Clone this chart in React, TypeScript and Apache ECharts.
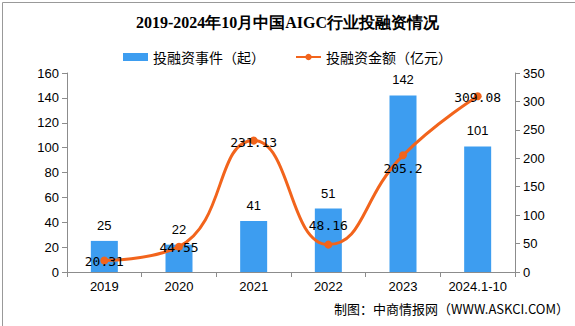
import React, { useEffect, useRef } from "react";
import * as echarts from "echarts";

const categories = ["2019", "2020", "2021", "2022", "2023", "2024.1-10"];
const eventCounts = [25, 22, 41, 51, 142, 101];
const amounts = [20.31, 44.55, 231.13, 48.16, 205.2, 309.08];
const amountLabelOffsets: number[][] = [[0, 1], [0, 1], [0, 2], [0, -19], [0, 13], [0, 1]];

export default function App() {
  const ref = useRef<HTMLDivElement>(null);
  useEffect(() => {
    document.body.style.margin = "0";
    const chart = echarts.init(ref.current!, undefined, { renderer: "svg" });
    const axisLine = { show: true, lineStyle: { color: "#8c8c8c" } };
    const tickFont = { color: "#000", fontSize: 13, fontFamily: "Liberation Sans, Arial, sans-serif" };
    chart.setOption({
      animation: false,
      backgroundColor: "#fff",
      title: {
        text: "2019-2024年10月中国AIGC行业投融资情况",
        left: "center",
        top: 9,
        textStyle: { fontSize: 16, fontWeight: "bold", color: "#000", fontFamily: "Liberation Serif, serif" },
      },
      legend: {
        top: 45,
        left: "center",
        itemGap: 30,
        itemWidth: 25,
        itemHeight: 8,
        textStyle: { fontSize: 14, color: "#000", fontFamily: "Noto Sans CJK SC, sans-serif" },
        data: [
          { name: "投融资事件（起）", icon: "rect" },
          { name: "投融资金额（亿元）" },
        ],
      },
      grid: { left: 67, right: 60, top: 73, bottom: 54 },
      xAxis: {
        type: "category",
        data: categories,
        axisLine,
        axisTick: { show: true, length: 5, interval: 0, lineStyle: { color: "#8c8c8c" } },
        axisLabel: { ...tickFont, margin: 8, interval: 0 },
      },
      yAxis: [
        {
          type: "value",
          min: 0,
          max: 160,
          interval: 20,
          axisLine,
          axisTick: { show: true, length: 5, lineStyle: { color: "#8c8c8c" } },
          splitLine: { show: false },
          axisLabel: { ...tickFont, margin: 8 },
        },
        {
          type: "value",
          min: 0,
          max: 350,
          interval: 50,
          position: "right",
          axisLine,
          axisTick: { show: true, length: 5, lineStyle: { color: "#8c8c8c" } },
          splitLine: { show: false },
          axisLabel: { ...tickFont, margin: 8 },
        },
      ],
      series: [
        {
          name: "投融资事件（起）",
          type: "bar",
          data: eventCounts,
          barWidth: 27,
          itemStyle: { color: "#3d9df0" },
          label: {
            show: true,
            position: "top",
            distance: 9,
            color: "#000",
            fontSize: 13,
            fontFamily: "Liberation Sans, Arial, sans-serif",
          },
        },
        {
          name: "投融资金额（亿元）",
          type: "line",
          yAxisIndex: 1,
          smooth: true,
          symbol: "circle",
          symbolSize: 8,
          data: amounts.map((v, i) => ({
            value: v,
            label: { offset: amountLabelOffsets[i] },
          })),
          lineStyle: { color: "#f2641c", width: 3 },
          itemStyle: { color: "#f2641c" },
          label: {
            show: true,
            position: "inside",
            color: "#000",
            fontSize: 13,
            fontFamily: "DejaVu Sans Mono, monospace",
          },
          z: 3,
        },
      ],
      graphic: [
        {
          type: "rect",
          left: 0,
          top: 0,
          shape: { width: 574, height: 325 },
          style: { fill: "none", stroke: "#999", lineWidth: 1 },
          silent: true,
        },
        {
          type: "text",
          right: 6,
          top: 302,
          style: {
            text: "制图：中商情报网（WWW.ASKCI.COM）",
            fontSize: 13,
            fill: "#000",
            fontFamily: "Noto Sans CJK SC, sans-serif",
          },
        },
      ],
    });
    return () => chart.dispose();
  }, []);
  return <div ref={ref} style={{ width: 575, height: 326 }} />;
}
